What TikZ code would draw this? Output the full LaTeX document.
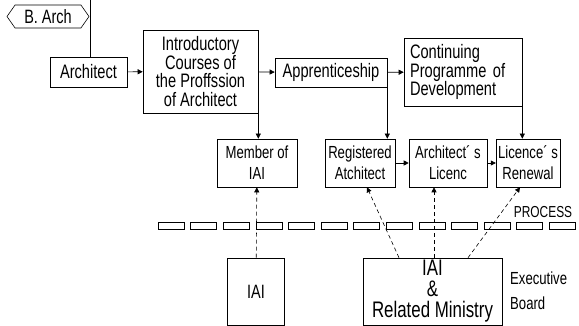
\documentclass[tikz,border=0pt]{standalone}
\usepackage{fontspec}
\setmainfont{Liberation Sans}[FakeStretch=0.75]
\usetikzlibrary{arrows.meta, shapes.symbols}

\tikzset{
    box/.style={draw, line width=0.6pt, inner sep=2pt, align=center,
        font=\fontsize{19.5}{18.5}\selectfont},
    stagebox/.style={box, minimum width=#1, minimum height=48pt,
        font=\fontsize{17.5}{21}\selectfont},
    link/.style={-{Triangle[length=5pt, width=5pt]}, line width=0.6pt},
    dlink/.style={link, dash pattern=on 4pt off 3pt},
}

\begin{document}
\begin{tikzpicture}[x=1pt, y=-1pt]
    \useasboundingbox (0,0) rectangle (579,326);

    % Education side
    \node[draw, line width=0.6pt, shape=signal, signal to=west and east,
        signal pointer angle=110, minimum width=82pt, minimum height=23pt,
        inner sep=1pt, font=\fontsize{19.3}{19}\selectfont] (barch) at (48,16.5) {B. Arch};
    \coordinate (btop) at (90,0);
    \node[box, minimum width=77pt, minimum height=30pt] (arch) at (88.5,72) {Architect};
    \node[box, minimum width=115pt, minimum height=83pt] (intro) at (200.5,71.5)
        {Introductory\\Courses of\\the Proffssion\\of Architect};
    \node[box, minimum width=112pt, minimum height=29pt] (appr) at (331,72.5) {Apprenticeship};
    \node[box, text width=106pt, align=left, inner sep=6pt, minimum height=68pt] (cont) at (463,72)
        {Continuing\\Programme of\\Development};

    \draw[line width=0.6pt] (btop) -- (btop |- arch.north);
    \draw[link] (arch) -- (intro);
    \draw[link] (intro) -- (appr);
    \draw[link] (appr) -- (cont);

    % Stages
    \node[stagebox=80pt] (member) at (257,163) {Member of\\IAI};
    \node[stagebox=70pt] (reg) at (360,163) {Registered\\Atchitect};
    \node[stagebox=78pt] (lic) at (448,163) {Architect´ s\\Licenc};
    \node[stagebox=62pt] (ren) at (528,163) {Licence´ s\\Renewal};

    \draw[link] (intro.south east) -- (intro.south east |- member.north);
    \draw[link] (appr.south east) -- (appr.south east |- reg.north);
    \draw[link] (cont.south east) -- (cont.south east |- ren.north);
    \draw[link] (reg) -- (lic);
    \draw[link] (lic) -- (ren);

    % Process band
    \foreach \i in {0,...,12}
        \draw[line width=0.6pt] (158+32.6*\i, 222) rectangle ++(26,7);
    \node[font=\fontsize{15.9}{16}\selectfont] (process) at (543,212) {PROCESS};

    % Boards
    \node[box, minimum width=57pt, minimum height=67pt, font=\fontsize{19.3}{19}\selectfont]
        (iai) at (256,291.5) {IAI};
    \node[box, minimum width=139pt, minimum height=67pt, inner sep=0.5pt,
        font=\fontsize{22.5}{21}\selectfont]
        (iairm) at (432.5,291.5) {IAI\\\&\\Related Ministry};
    \node[anchor=west, align=left, inner sep=0pt, font=\fontsize{17.5}{25}\selectfont]
        (exec) at (510,290.5) {Executive\\Board};

    \draw[dlink] (iai) -- (member);
    \draw[dlink] ([xshift=-33.5pt]iairm.north) -- ([xshift=7pt]reg.south);
    \draw[dlink] ([xshift=1.5pt]iairm.north) -- ([xshift=-14pt]lic.south);
    \draw[dlink] ([xshift=35.5pt]iairm.north) -- ([xshift=-8pt]ren.south);
\end{tikzpicture}
\end{document}
